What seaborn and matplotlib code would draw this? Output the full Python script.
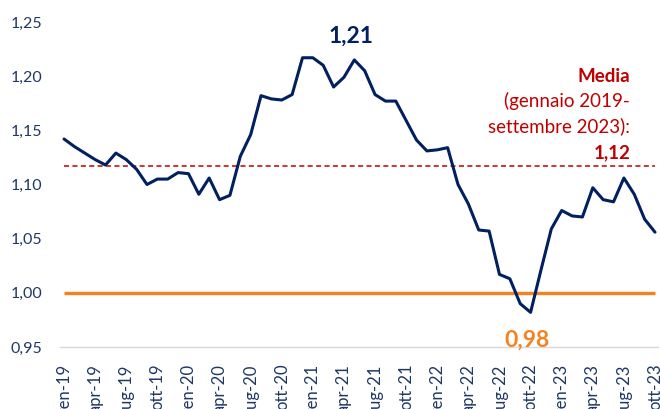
import numpy as np
import pandas as pd
import matplotlib
matplotlib.use("Agg")
import matplotlib.pyplot as plt
import seaborn as sns

# ---- data ----
month_names = ["gen", "feb", "mar", "apr", "mag", "giu", "lug", "ago", "set", "ott", "nov", "dic"]
years = ["19", "20", "21", "22", "23"]
values = [1.142, 1.135, 1.129, 1.123, 1.118, 1.129, 1.123, 1.114, 1.100, 1.105,
          1.105, 1.111, 1.110, 1.091, 1.106, 1.086, 1.090, 1.126, 1.146, 1.182,
          1.179, 1.178, 1.183, 1.217, 1.217, 1.210, 1.190, 1.199, 1.215, 1.205,
          1.183, 1.177, 1.177, 1.159, 1.141, 1.131, 1.132, 1.134, 1.100, 1.082,
          1.058, 1.057, 1.017, 1.013, 0.990, 0.982, 1.021, 1.059, 1.076, 1.071,
          1.070, 1.097, 1.086, 1.084, 1.106, 1.091, 1.068, 1.056]
mean_value = 1.117
parity_value = 1.00
max_label = "1,21"
min_label = "0,98"
mean_label_lines = ["Media", "(gennaio 2019-", "settembre 2023):", "1,12"]
y_ticks = [0.95, 1.00, 1.05, 1.10, 1.15, 1.20, 1.25]

labels = [f"{m}-{y}" for y in years for m in month_names][:len(values)]
df = pd.DataFrame({"idx": np.arange(len(values)), "val": values, "lab": labels})

# ---- style ----
sns.set_theme(style="white")
plt.rcParams["font.family"] = ["Lato", "DejaVu Sans"]

NAVY = "#002060"
TICK = "#1F3864"
RED = "#C00000"
ORANGE = "#F58220"

fig = plt.figure(figsize=(6.6, 4.09), dpi=100)
ax = fig.add_axes([60 / 660, 62 / 409, 598 / 660, 325 / 409])

n = len(values)
ax.hlines(parity_value, 0, n - 1, color=ORANGE, lw=2.4, zorder=2)
ax.hlines(mean_value, 0, n - 1, color=RED, lw=1.1, linestyles=(0, (3.3, 2.2)), zorder=2)
sns.lineplot(data=df, x="idx", y="val", color=NAVY, lw=2.2, ax=ax, zorder=3)

ax.set_xlim(-0.39, n - 1 + 0.29)
ax.set_ylim(0.95, 1.25)
ax.set_yticks(y_ticks)
ax.set_yticklabels([f"{t:.2f}".replace(".", ",") for t in y_ticks])
tick_idx = df["idx"][::3]
ax.set_xticks(tick_idx)
ax.set_xticklabels(df["lab"][::3], rotation=90, va="top", ha="center")
ax.tick_params(axis="y", length=0, pad=13, labelsize=11.5, labelcolor=TICK)
ax.tick_params(axis="x", length=0, pad=12, labelsize=12, labelcolor=TICK)
ax.set_xlabel("")
ax.set_ylabel("")
for s in ["top", "right", "left"]:
    ax.spines[s].set_visible(False)
ax.spines["bottom"].set_color("#D9D9D9")
ax.spines["bottom"].set_linewidth(1.0)

# annotations
ax.text(27.7, 1.237, max_label, color=NAVY, fontsize=16.5, fontweight="bold",
        ha="center", va="center")
ax.text(44.7, 0.9566, min_label, color=ORANGE, fontsize=16.5, fontweight="bold",
        ha="center", va="center")
ys = [1.200, 1.177, 1.154, 1.129]
for i, (line, yy) in enumerate(zip(mean_label_lines, ys)):
    bold = i in (0, 3)
    ax.text(54.6, yy, line, color=RED, fontsize=13.5,
            fontweight="bold" if bold else "normal", ha="right", va="center")

fig.savefig("out.png", dpi=100)
